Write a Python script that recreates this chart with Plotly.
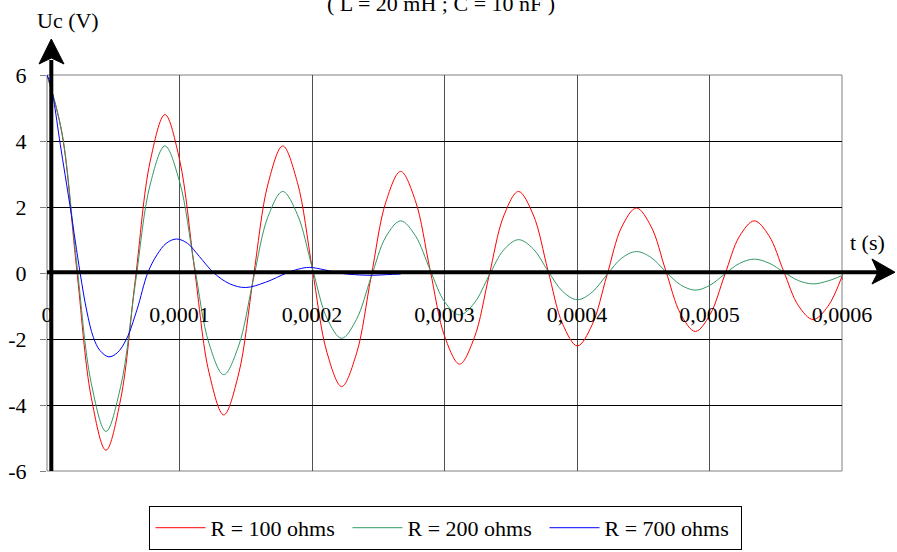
import plotly.graph_objects as go

# ---------------- data ----------------
# common time grid for R = 100 and R = 200 (microseconds)
t_us = [0, 11.1, 22.2, 33.4, 44.5, 55.6, 66.7, 77.8, 89.0, 100.1, 111.2, 122.3,
        133.4, 144.6, 155.7, 166.8, 177.9, 189.0, 200.2, 211.3, 222.4, 233.5,
        244.6, 255.8, 266.9, 278.0, 289.1, 300.2, 311.4, 322.5, 333.6, 344.7,
        355.8, 367.0, 378.1, 389.2, 400.3, 411.4, 422.6, 433.7, 444.8, 455.9,
        467.0, 478.2, 489.3, 500.4, 511.5, 522.6, 533.8, 544.9, 556.0, 567.1,
        578.2, 589.4, 600.0]

u_r100 = [6.00, 4.27, 0.20, -3.77, -5.37, -3.82, -0.18, 3.37, 4.80, 3.42, 0.16, -3.02,
          -4.30, -3.06, -0.14, 2.70, 3.85, 2.74, 0.13, -2.41, -3.44, -2.45,
          -0.12, 2.16, 3.08, 2.19, 0.10, -1.93, -2.76, -1.96, -0.09, 1.73,
          2.47, 1.76, 0.08, -1.55, -2.21, -1.57, -0.07, 1.39, 1.97, 1.41,
          0.07, -1.24, -1.77, -1.26, -0.06, 1.11, 1.58, 1.13, 0.05, -0.99,
          -1.41, -1.01, -0.10]

u_r200 = [6.00, 4.30, 0.38, -3.34, -4.80, -3.44, -0.31, 2.67, 3.85, 2.76, 0.24, -2.14,
          -3.08, -2.21, -0.20, 1.71, 2.47, 1.77, 0.16, -1.37, -1.98, -1.41,
          -0.13, 1.10, 1.58, 1.13, 0.10, -0.88, -1.27, -0.91, -0.08, 0.70,
          1.01, 0.73, 0.06, -0.56, -0.81, -0.58, -0.05, 0.45, 0.65, 0.47,
          0.04, -0.36, -0.52, -0.37, -0.03, 0.29, 0.42, 0.30, 0.03, -0.23,
          -0.33, -0.24, -0.08]

# R = 700 ohms (own time points, microseconds)
t_r700_us = [0, 2.5, 5, 10, 17.5, 25, 30, 35, 40, 46.7, 53, 60, 68, 76, 83, 90,
             97.8, 106, 115, 126, 138, 150, 165, 181, 190, 198, 209, 220, 232,
             245, 256, 267]
u_r700 = [6.0, 5.75, 5.25, 3.9, 2.0, 0.0, -1.15, -1.95, -2.35, -2.54, -2.42, -2.0,
          -1.1, 0.0, 0.55, 0.9, 1.03, 0.9, 0.5, 0.0, -0.33, -0.44, -0.28, 0.0,
          0.12, 0.17, 0.1, 0.0, -0.05, -0.07, -0.05, -0.03]

series_names = ["R = 100 ohms", "R = 200 ohms", "R = 700 ohms"]
series_colors = ["#FF0000", "#339966", "#0000FF"]

x_tickvals = [0, 0.0001, 0.0002, 0.0003, 0.0004, 0.0005, 0.0006]
x_ticktext = ["0", "0,0001", "0,0002", "0,0003", "0,0004", "0,0005", "0,0006"]
y_tickvals = [-6, -4, -2, 0, 2, 4, 6]
y_ticktext = ["-6", "-4", "-2", "0", "2", "4", "6"]

title_text = "( L = 20 mH ; C = 10 nF )"
y_title = "Uc (V)"
x_title = "t (s)"

FONT = "Times New Roman, Liberation Serif, DejaVu Serif, serif"

# ---------------- figure ----------------
fig = go.Figure()
for tt, uu, nm, col in [(t_us, u_r100, series_names[0], series_colors[0]),
                        (t_us, u_r200, series_names[1], series_colors[1]),
                        (t_r700_us, u_r700, series_names[2], series_colors[2])]:
    fig.add_trace(go.Scatter(
        x=[v * 1e-6 for v in tt], y=uu, mode="lines", name=nm,
        line=dict(color=col, width=1, shape="spline", smoothing=1.0),
        hoverinfo="skip"))

shapes = [
    # plot area border
    dict(type="rect", xref="paper", yref="paper", x0=0, y0=0, x1=1, y1=1,
         line=dict(color="#808080", width=1), layer="between"),
    # vertical thick axis
    dict(type="line", xref="paper", yref="paper", x0=0.00541, y0=0, x1=0.00541, y1=1.038,
         line=dict(color="black", width=4), layer="above"),
    dict(type="path", xref="paper", yref="paper",
         path="M 0.00541 1.0909 L -0.01006 1.0278 L 0.00541 1.0429 L 0.02138 1.0278 Z",
         fillcolor="black", line=dict(color="black", width=1), layer="above"),
    # horizontal thick axis
    dict(type="line", xref="paper", yref="paper", x0=0, y0=0.502, x1=1.048, y1=0.502,
         line=dict(color="black", width=4), layer="above"),
    dict(type="path", xref="paper", yref="paper",
         path="M 1.0667 0.502 L 1.0377 0.5354 L 1.0453 0.502 L 1.0377 0.4722 Z",
         fillcolor="black", line=dict(color="black", width=1), layer="above"),
]

annotations = [
    dict(text=title_text, xref="paper", yref="paper", x=0.4956, y=1.1793,
         xanchor="center", yanchor="middle", showarrow=False,
         font=dict(family=FONT, size=22, color="black")),
    dict(text=y_title, xref="paper", yref="paper", x=0.0264, y=1.1376,
         xanchor="center", yanchor="middle", showarrow=False,
         font=dict(family=FONT, size=22, color="black")),
    dict(text=x_title, xref="paper", yref="paper", x=1.0321, y=0.577,
         xanchor="center", yanchor="middle", showarrow=False,
         font=dict(family=FONT, size=22, color="black")),
]

fig.update_layout(
    width=897, height=552,
    margin=dict(l=47, r=55, t=75, b=81, pad=0, autoexpand=False),
    paper_bgcolor="white", plot_bgcolor="white",
    font=dict(family=FONT, size=22, color="black"),
    showlegend=True,
    legend=dict(orientation="h", xref="container", yref="container",
                x=0.4972, xanchor="center", y=0.0835, yanchor="top",
                bgcolor="white", bordercolor="black", borderwidth=1,
                font=dict(family=FONT, size=22, color="black"),
                itemwidth=50, entrywidth=132, tracegroupgap=0),
    xaxis=dict(range=[0, 0.0006], tickvals=x_tickvals, ticktext=x_ticktext,
               anchor="free", position=0.5, showline=False, zeroline=False,
               showgrid=True, gridcolor="#505050", gridwidth=1,
               ticks="outside", ticklen=6, tickcolor="#808080",
               ticklabelstandoff=16,
               tickfont=dict(family=FONT, size=22, color="black")),
    yaxis=dict(range=[-6, 6], tickvals=y_tickvals, ticktext=y_ticktext,
               showline=False, zeroline=False, showgrid=True,
               gridcolor="black", gridwidth=1,
               ticks="outside", ticklen=6, tickcolor="#808080",
               ticklabelstandoff=9,
               tickfont=dict(family=FONT, size=22, color="black")),
    shapes=shapes, annotations=annotations,
)

fig.write_html("out.html", config={"displayModeBar": False},
               post_script="document.body.style.margin='0';")
